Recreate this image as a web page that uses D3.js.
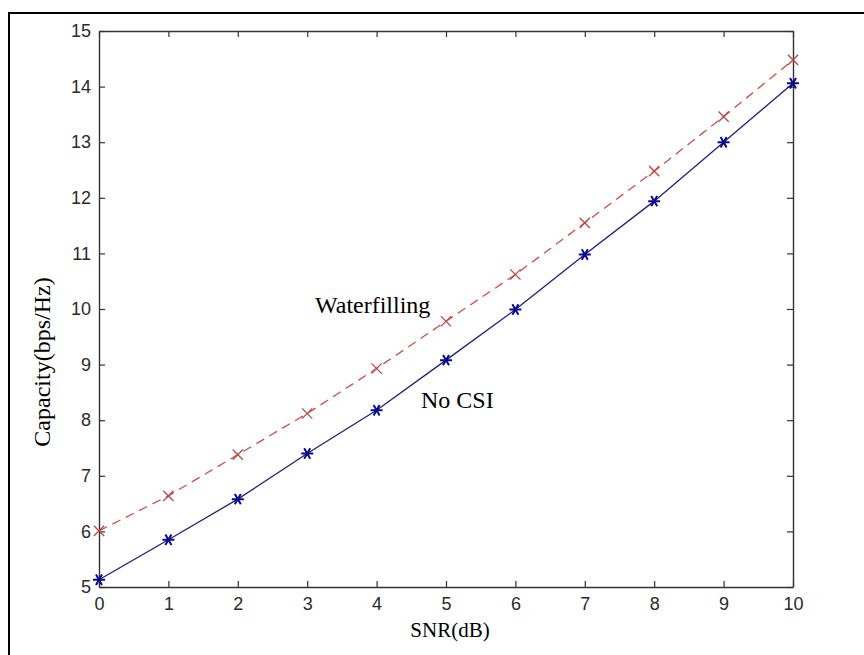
<!DOCTYPE html>
<html>
<head>
<meta charset="utf-8">
<script src="https://cdn.jsdelivr.net/npm/d3@7"></script>
<style>
  body { margin: 0; background: #fff; }
  svg { display: block; }
</style>
</head>
<body>
<div id="chart"></div>
<script>
// SNR values (dB) on the x axis
var snr = [0, 1, 2, 3, 4, 5, 6, 7, 8, 9, 10];
// capacity with waterfilling (red dashed, x markers)
var waterfilling = [6.01, 6.64, 7.38, 8.12, 8.93, 9.78, 10.62, 11.55, 12.48, 13.46, 14.48];
// capacity with no CSI (blue solid, * markers)
var noCsi = [5.13, 5.85, 6.58, 7.40, 8.18, 9.08, 9.99, 10.98, 11.94, 13.00, 14.06];
var xTicks = [0, 1, 2, 3, 4, 5, 6, 7, 8, 9, 10];
var yTicks = [5, 6, 7, 8, 9, 10, 11, 12, 13, 14, 15];

var W = 864, H = 655;
var margin = {top: 31, right: 71, bottom: 68, left: 99},
    width = W - margin.left - margin.right,
    height = H - margin.top - margin.bottom;

var svg = d3.select("#chart").append("svg")
    .attr("width", W)
    .attr("height", H);

// outer frame (only top and left edges are visible in the crop)
svg.append("path")
    .attr("d", "M9," + H + "V13H" + W)
    .attr("fill", "none")
    .attr("stroke", "#000")
    .attr("stroke-width", 2);

var g = svg.append("g")
    .attr("transform", "translate(" + margin.left + "," + margin.top + ")");

var x = d3.scaleLinear().domain([0, 10]).range([0, width]);
var y = d3.scaleLinear().domain([5, 15]).range([height, 0]);

// axes, ticks pointing inward like matlab
function styleAxis(sel) {
  sel.select(".domain").attr("stroke", "#333").attr("stroke-width", 1.4);
  sel.selectAll(".tick line").attr("stroke", "#333").attr("stroke-width", 1.2);
  sel.selectAll("text")
     .attr("font-family", "'Liberation Sans', Arial, sans-serif")
     .attr("font-size", 18)
     .attr("fill", "#2a2a2a");
}

g.append("g")
    .attr("transform", "translate(0," + height + ")")
    .call(d3.axisBottom(x).tickValues(xTicks).tickSizeInner(-6).tickSizeOuter(0).tickPadding(10))
    .call(styleAxis);

g.append("g")
    .call(d3.axisLeft(y).tickValues(yTicks).tickSizeInner(-6).tickSizeOuter(0).tickPadding(8))
    .call(styleAxis);

g.append("g")
    .call(d3.axisTop(x).tickValues(xTicks).tickSizeInner(-6).tickSizeOuter(0).tickFormat(""))
    .call(styleAxis);

g.append("g")
    .attr("transform", "translate(" + width + ",0)")
    .call(d3.axisRight(y).tickValues(yTicks).tickSizeInner(-6).tickSizeOuter(0).tickFormat(""))
    .call(styleAxis);

var wfData = snr.map(function(s, i) { return {x: s, y: waterfilling[i]}; });
var ncData = snr.map(function(s, i) { return {x: s, y: noCsi[i]}; });

var line = d3.line()
    .x(function(d) { return x(d.x); })
    .y(function(d) { return y(d.y); });

// waterfilling: red dashed line
g.append("path")
    .datum(wfData)
    .attr("fill", "none")
    .attr("stroke", "#c8504f")
    .attr("stroke-width", 1.3)
    .attr("stroke-dasharray", "9,6")
    .attr("d", line);

// no CSI: blue solid line
g.append("path")
    .datum(ncData)
    .attr("fill", "none")
    .attr("stroke", "#1f1f78")
    .attr("stroke-width", 1.3)
    .attr("d", line);

// x markers (stroke symbol)
var xm = d3.symbol().type(d3.symbolTimes).size(70);
g.selectAll(".wf")
    .data(wfData)
  .enter().append("path")
    .attr("class", "wf")
    .attr("transform", function(d) { return "translate(" + x(d.x) + "," + y(d.y) + ")"; })
    .attr("d", xm)
    .attr("fill", "none")
    .attr("stroke", "#b84848")
    .attr("stroke-width", 1.3);

// * markers drawn as three crossing strokes
var star = "M-6,0H6M-3,-5.2L3,5.2M-3,5.2L3,-5.2";
g.selectAll(".nc")
    .data(ncData)
  .enter().append("path")
    .attr("class", "nc")
    .attr("transform", function(d) { return "translate(" + x(d.x) + "," + y(d.y) + ")"; })
    .attr("d", star)
    .attr("stroke", "#0a0a90")
    .attr("stroke-width", 2)
    .attr("fill", "none");

// labels
var serif = "'Liberation Serif', 'Times New Roman', serif";

svg.append("text")
    .attr("x", 450)
    .attr("y", 637)
    .attr("text-anchor", "middle")
    .attr("font-family", serif)
    .attr("font-size", 21)
    .text("SNR(dB)");

svg.append("text")
    .attr("transform", "translate(50,362) rotate(-90)")
    .attr("text-anchor", "middle")
    .attr("font-family", serif)
    .attr("font-size", 24)
    .text("Capacity(bps/Hz)");

svg.append("text")
    .attr("x", 315)
    .attr("y", 313)
    .attr("font-family", serif)
    .attr("font-size", 24)
    .text("Waterfilling");

svg.append("text")
    .attr("x", 421)
    .attr("y", 408)
    .attr("font-family", serif)
    .attr("font-size", 24)
    .text("No CSI");
</script>
</body>
</html>
